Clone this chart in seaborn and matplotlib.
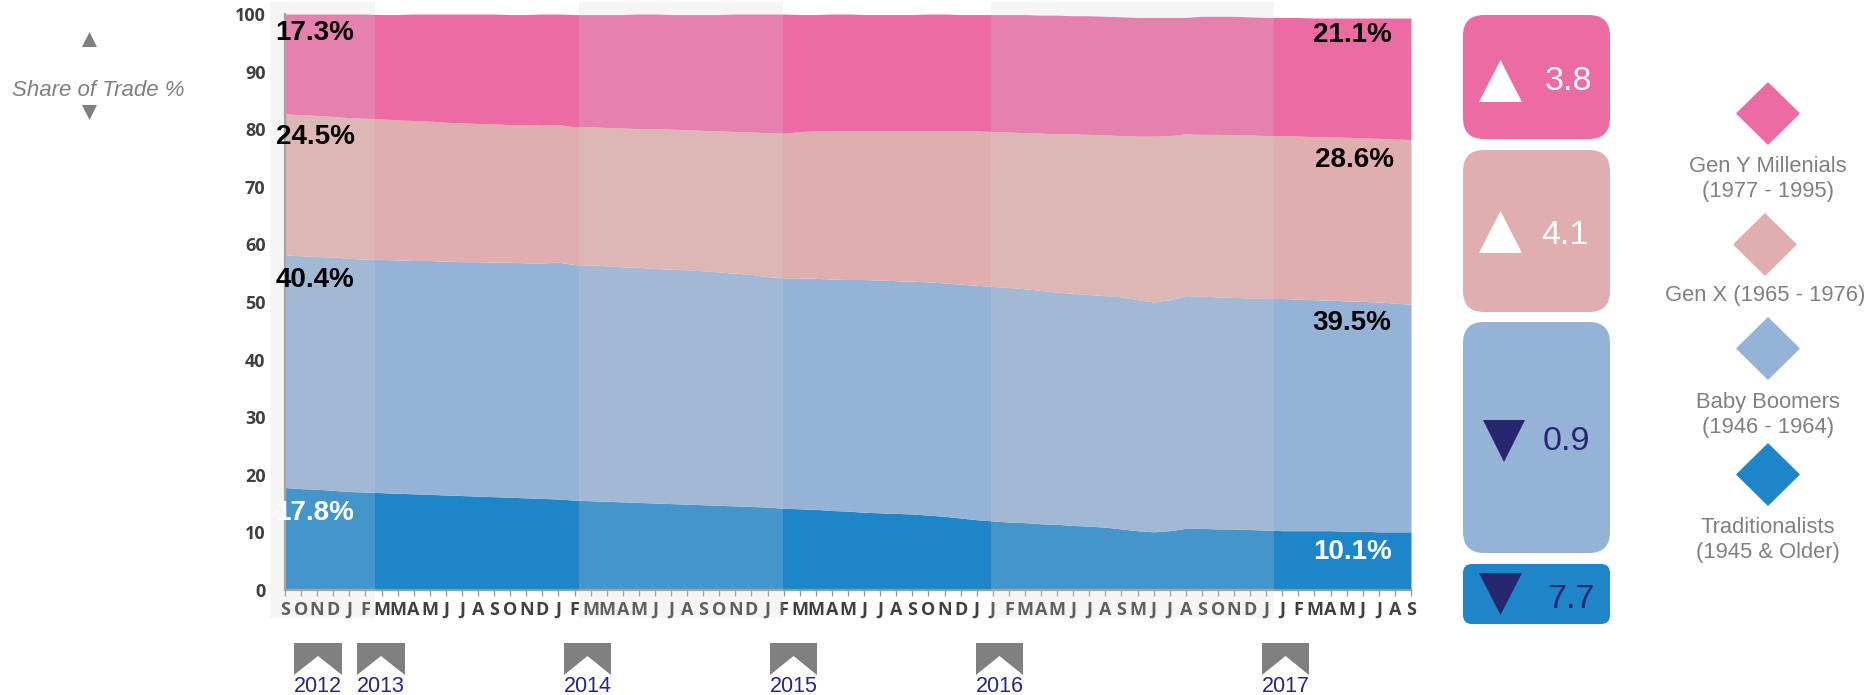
import numpy as np
import pandas as pd
import seaborn as sns
import matplotlib.pyplot as plt
from matplotlib.patches import FancyBboxPatch, Polygon

# month labels along the axis, as they appear in the picture
months = list('SONDJFMMAMJJASONDJFMMAMJJASONDJFMMAMJJASONDJJFMAMJJASMJJASONDJJFMAMJJAS')

# top edge of each band
trad_top = [17.8, 17.6, 17.5, 17.3, 17.1, 17.0, 16.9, 16.8, 16.7, 16.6, 16.5, 16.4, 16.3, 16.2, 16.1, 16.0, 15.9, 15.8,
            15.6, 15.5, 15.4, 15.3, 15.2, 15.1, 15.0, 14.9, 14.8, 14.7, 14.6, 14.5, 14.4, 14.2, 14.1, 14.0, 13.8, 13.7,
            13.5, 13.4, 13.3, 13.2, 13.0, 12.8, 12.5, 12.2, 12.0, 11.8, 11.7, 11.5, 11.4, 11.2, 11.1, 10.9, 10.6, 10.3,
            10.1, 10.3, 10.7, 10.7, 10.6, 10.6, 10.5, 10.4, 10.3, 10.3, 10.3, 10.3, 10.2, 10.2, 10.1, 10.1, 10.1]
boomer_top = [58.2, 58.0, 57.9, 57.8, 57.6, 57.4, 57.4, 57.3, 57.2, 57.2, 57.1, 57.0, 57.0, 56.9, 56.9, 56.8, 56.8, 56.9,
              56.5, 56.4, 56.3, 56.1, 56.0, 55.8, 55.7, 55.6, 55.4, 55.2, 55.0, 54.8, 54.4, 54.2, 54.2, 54.1, 54.0, 53.9,
              53.9, 53.8, 53.7, 53.6, 53.5, 53.3, 53.1, 52.9, 52.7, 52.5, 52.3, 52.0, 51.7, 51.5, 51.3, 51.1, 50.9, 50.4,
              50.0, 50.4, 51.1, 51.0, 50.9, 50.8, 50.7, 50.6, 50.6, 50.5, 50.4, 50.3, 50.2, 50.1, 50.0, 49.8, 49.6]
genx_top = [82.7, 82.5, 82.4, 82.2, 82.0, 81.9, 81.8, 81.6, 81.5, 81.4, 81.2, 81.1, 81.0, 80.9, 80.8, 80.8, 80.7, 80.8,
            80.4, 80.4, 80.3, 80.2, 80.1, 80.1, 80.0, 79.9, 79.8, 79.7, 79.6, 79.5, 79.4, 79.3, 79.6, 79.7, 79.7, 79.7,
            79.7, 79.7, 79.7, 79.7, 79.7, 79.7, 79.7, 79.7, 79.6, 79.5, 79.4, 79.3, 79.2, 79.2, 79.1, 79.0, 78.9, 78.8,
            78.8, 78.9, 79.2, 79.1, 79.1, 79.0, 79.0, 78.9, 78.9, 78.8, 78.7, 78.7, 78.6, 78.5, 78.4, 78.3, 78.2]
mill_top = [100.0, 100.0, 100.0, 100.0, 100.0, 100.0, 99.9, 99.9, 100.0, 100.0, 100.0, 100.0, 100.0, 100.0, 99.9, 99.9, 100.0, 100.0,
            99.9, 99.9, 99.9, 99.9, 100.0, 100.0, 99.9, 99.9, 99.9, 99.9, 100.0, 100.0, 100.0, 100.0, 99.9, 99.9, 100.0, 100.0,
            99.9, 99.9, 99.9, 99.9, 100.0, 100.0, 99.9, 99.9, 99.9, 99.9, 99.9, 99.8, 99.8, 99.7, 99.7, 99.6, 99.5, 99.4,
            99.4, 99.4, 99.4, 99.6, 99.6, 99.6, 99.5, 99.4, 99.4, 99.4, 99.3, 99.3, 99.3, 99.3, 99.3, 99.3, 99.3]

generations = ['Gen Y Millenials', 'Gen X', 'Baby Boomers', 'Traditionalists']
colors = ['#EC6BA3', '#E0AEAE', '#95B2D7', '#1E85C8']
yticks = [0, 10, 20, 30, 40, 50, 60, 70, 80, 90, 100]
start_pct = ['17.3%', '24.5%', '40.4%', '17.8%']
end_pct = ['21.1%', '28.6%', '39.5%', '10.1%']
changes = ['3.8', '4.1', '0.9', '7.7']
years = ['2012', '2013', '2014', '2015', '2016', '2017']
legend_text = ['Gen Y Millenials\n(1977 - 1995)', 'Gen X (1965 - 1976)', 'Baby Boomers\n(1946 - 1964)', 'Traditionalists\n(1945 & Older)']

NAVY = '#26266F'
GREY = '#808080'

sns.set_style('white')
plt.rcParams['font.family'] = ['Liberation Sans', 'DejaVu Sans']

t = np.arange(len(months))
rows = []
for name, top, low in [
    (generations[0], mill_top, genx_top),
    (generations[1], genx_top, boomer_top),
    (generations[2], boomer_top, trad_top),
    (generations[3], trad_top, [0] * len(t)),
]:
    rows.append(pd.DataFrame({'t': t, 'share': np.array(top) - np.array(low), 'gen': name}))
df = pd.concat(rows)

W, H = 1868, 695
fig = plt.figure(figsize=(W / 100, H / 100), dpi=100)
ax = fig.add_axes([285 / W, 1 - 590 / H, (1411 - 285) / W, (590 - 14) / H])

sns.histplot(df, x='t', weights='share', hue='gen', hue_order=generations, palette=colors,
             multiple='stack', element='poly', discrete=True, alpha=1, linewidth=0, legend=False, ax=ax)

ax.set_xlim(0, len(t) - 1)
ax.set_ylim(0, 100)
ax.set_xlabel('')
ax.set_ylabel('')
ax.set_xticks(t)
ax.set_xticklabels(months, family='Open Sans', weight='bold', fontsize=13, color='#404040')
ax.set_yticks(yticks)
ax.set_yticklabels(yticks, family='Open Sans', weight='bold', fontsize=13, color='#404040')
ax.tick_params(axis='x', length=4, width=1, color='#999999', bottom=True, pad=4)
ax.tick_params(axis='y', length=0, pad=14)
for s in ['top', 'right']:
    ax.spines[s].set_visible(False)
for s in ['left', 'bottom']:
    ax.spines[s].set_color('#999999')
    ax.spines[s].set_linewidth(1.6)

# pale alternating year bands, they wash over the areas and the month labels
for x0, x1 in [(-0.93, 5.59), (18.27, 30.95), (43.9, 61.5)]:
    ax.axvspan(x0, x1, ymin=-0.0486, ymax=1.0208, color='#D4D4D4', alpha=0.21, lw=0, zorder=6, clip_on=False)

# everything outside the plot sits on a pixel overlay
ov = fig.add_axes([0, 0, 1, 1], facecolor='none')
ov.set_xlim(0, W)
ov.set_ylim(H, 0)
ov.axis('off')

pct = dict(family='Liberation Sans', weight='bold', fontsize=20, va='center', ha='center')
for txt, y, c in zip(start_pct, [33, 137, 280, 513], ['black', 'black', 'black', 'white']):
    ov.text(315, y, txt, color=c, **pct)
for txt, x, y, c in zip(end_pct, [1352, 1354, 1352, 1353], [35, 160, 323, 552], ['black', 'black', 'black', 'white']):
    ov.text(x, y, txt, color=c, **pct)

# change boxes
boxes = [(15, 139, 21), (150, 312, 21), (322, 553, 21), (564, 624, 9)]
tris = [(1479, 1522, 102, 60), (1479, 1522, 253, 211), (1483, 1525, 420, 462), (1479, 1522, 573, 615)]
nums = [(1568, 81, 'white'), (1565, 236, 'white'), (1566, 442, NAVY), (1571, 599, NAVY)]
for (y0, y1, r), col in zip(boxes, colors):
    ov.add_patch(FancyBboxPatch((1463 + r, y0 + r), 147 - 2 * r, y1 - y0 - 2 * r,
                                boxstyle='round,pad=%d,rounding_size=%d' % (r, r), fc=col, ec='none'))
for i, (x0, x1, ybase, ytip) in enumerate(tris):
    fc = 'white' if i < 2 else NAVY
    ov.add_patch(Polygon([(x0, ybase), (x1, ybase), ((x0 + x1) / 2, ytip)], fc=fc, ec='none'))
for (x, y, c), txt in zip(nums, changes):
    ov.text(x, y, txt, color=c, fontsize=24.5, ha='center', va='center')

# legend diamonds
diamonds = [(1768, 82, 145), (1765, 213, 276), (1768, 317, 380), (1768, 443, 506)]
for (cx, y0, y1), col in zip(diamonds, colors):
    ov.add_patch(Polygon([(cx, y0), (cx + 32, (y0 + y1) / 2), (cx, y1), (cx - 32, (y0 + y1) / 2)], fc=col, ec='none'))
for txt, x, y in zip(legend_text, [1768, 1765, 1768, 1768], [179, 296, 415, 540]):
    ov.text(x, y, txt, color=GREY, fontsize=15.8, ha='center', va='center', linespacing=1.3)

# y axis title with its arrows
ov.text(98, 91, 'Share of Trade %', color=GREY, fontsize=16, style='italic', ha='center', va='center')
ov.add_patch(Polygon([(82, 47), (97, 47), (89.5, 32)], fc=GREY, ec='none'))
ov.add_patch(Polygon([(82, 105), (97, 105), (89.5, 120)], fc=GREY, ec='none'))

# year flags under the axis
flags = [(294, 342), (357, 405), (564, 611), (770, 817), (976, 1023), (1262, 1309)]
for (x0, x1), yr in zip(flags, years):
    xm = (x0 + x1) / 2
    ov.add_patch(Polygon([(x0, 643), (x1, 643), (x1, 675), (xm, 656), (x0, 675)], fc=GREY, ec='none'))
    ov.text(xm, 687, yr, color='#26267F', fontsize=15.5, ha='center', va='center')

fig.savefig('out.png', dpi=100)
